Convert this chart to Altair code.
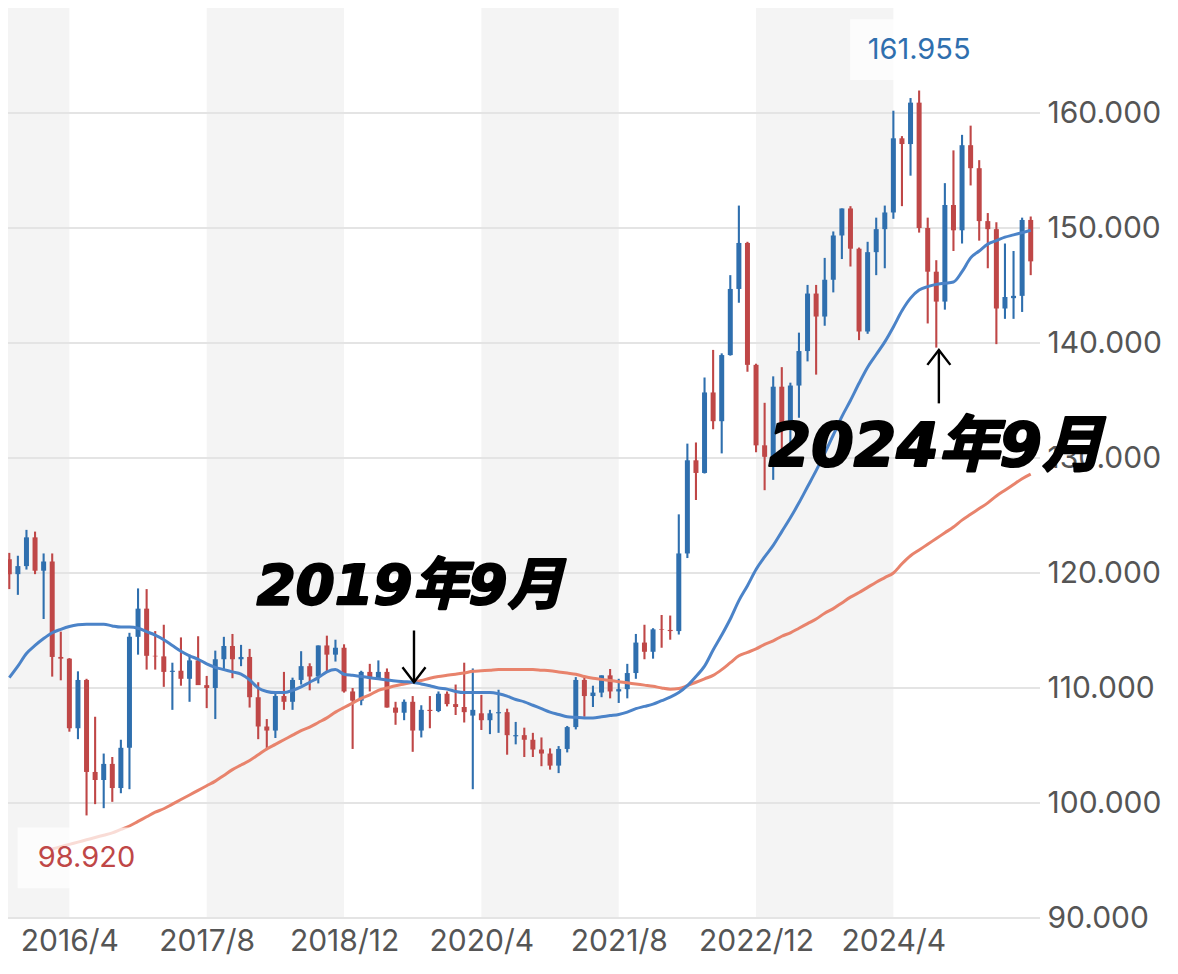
import altair as alt
import pandas as pd

# ---------------- data (monthly candles, index 0 = 2015/9 ... 119 = 2025/8) ----------------
open_ = [
    121.2, 119.9, 120.6, 123.1, 120.2, 121.0, 112.7, 112.55, 106.5, 110.7,
    102.7, 102.0, 103.4, 101.3, 104.8, 114.45, 116.9, 112.8, 112.75, 111.4,
    111.5, 110.8, 112.4, 110.25, 110.0, 112.5, 113.65, 112.5, 112.7, 109.2,
    106.65, 106.3, 109.3, 108.8, 110.7, 111.9, 111.0, 113.7, 112.9, 113.5,
    109.7, 108.9, 111.4, 110.85, 111.4, 108.3, 107.85, 108.8, 106.3, 108.1,
    108.0, 109.5, 108.6, 108.35, 107.6, 107.8, 107.2, 107.8, 107.9, 105.8,
    105.9, 105.5, 104.65, 104.3, 103.25, 104.7, 106.6, 110.7, 109.3, 109.6,
    111.1, 109.7, 109.9, 111.3, 113.95, 113.15, 115.1, 115.05, 114.95, 121.7,
    129.8, 128.7, 135.7, 133.2, 138.95, 144.7, 148.7, 138.1, 131.1, 130.1,
    136.2, 132.8, 136.3, 139.3, 144.3, 142.3, 145.5, 149.35, 151.7, 148.2,
    141.0, 147.9, 149.9, 151.35, 157.8, 157.3, 160.9, 150.0, 146.2, 143.6,
    152.0, 149.8, 157.2, 155.2, 150.6, 149.9, 143.0, 143.9, 144.1, 150.7,
]
high = [
    121.75, 121.5, 123.75, 123.6, 121.7, 121.7, 114.9, 112.6, 111.45, 110.8,
    107.5, 104.3, 104.0, 105.5, 114.8, 118.66, 118.6, 114.95, 115.5, 112.2,
    114.4, 112.9, 114.5, 111.05, 113.25, 114.45, 114.7, 113.75, 113.4, 110.5,
    107.3, 109.55, 111.4, 110.9, 113.2, 112.15, 113.7, 114.55, 114.2, 113.8,
    110.0, 111.5, 112.1, 112.4, 111.7, 108.8, 109.0, 109.3, 108.5, 109.3,
    109.7, 109.7, 110.3, 112.2, 111.7, 109.4, 108.1, 109.85, 108.2, 107.05,
    106.55, 106.1, 105.7, 104.75, 104.95, 106.7, 110.95, 110.95, 110.2, 111.1,
    111.65, 110.8, 112.1, 114.7, 115.5, 115.2, 116.35, 116.3, 125.1, 131.25,
    131.35, 137.0, 139.4, 139.1, 145.9, 151.95, 148.8, 138.2, 134.8, 137.1,
    137.9, 136.55, 140.9, 145.05, 145.05, 147.4, 149.7, 151.7, 151.9, 148.3,
    148.8, 150.9, 151.95, 160.2, 157.99, 161.3, 161.955, 150.9, 147.2, 153.9,
    156.75, 158.1, 158.9, 155.9, 151.3, 150.5, 148.65, 148.0, 150.9, 151.0,
]
low = [
    118.6, 118.1, 120.3, 119.9, 116.0, 110.99, 110.67, 106.2, 105.55, 98.92,
    99.9, 99.55, 100.1, 100.85, 101.2, 112.9, 111.6, 111.6, 110.1, 108.1,
    110.2, 108.8, 110.6, 108.25, 107.3, 111.65, 110.85, 111.9, 108.3, 105.55,
    104.6, 105.65, 108.1, 108.1, 110.3, 109.8, 110.4, 111.4, 112.3, 109.6,
    104.7, 108.5, 109.7, 110.8, 108.3, 106.8, 107.2, 104.45, 105.7, 106.5,
    107.9, 108.4, 107.65, 107.0, 101.2, 106.35, 105.99, 106.1, 104.2, 105.1,
    104.0, 104.0, 103.2, 102.9, 102.6, 104.4, 106.4, 107.5, 108.35, 109.2,
    109.1, 108.7, 109.1, 110.8, 112.5, 112.55, 113.5, 114.2, 114.65, 121.3,
    126.35, 128.65, 132.5, 130.4, 138.9, 143.5, 137.5, 130.5, 127.2, 128.1,
    129.6, 130.6, 133.5, 138.4, 137.25, 141.5, 144.4, 147.3, 146.65, 140.25,
    140.8, 145.9, 146.5, 150.8, 151.9, 154.55, 149.6, 141.7, 139.6, 142.9,
    148.0, 148.65, 153.7, 148.9, 146.5, 139.9, 142.1, 142.1, 142.7, 145.9,
]
close = [
    119.9, 120.6, 123.1, 120.2, 121.0, 112.7, 112.55, 106.5, 110.7, 102.7,
    102.0, 103.4, 101.3, 104.8, 114.45, 116.9, 112.8, 112.75, 111.4, 111.5,
    110.8, 112.4, 110.25, 110.0, 112.5, 113.65, 112.5, 112.7, 109.2, 106.65,
    106.3, 109.3, 108.8, 110.7, 111.9, 111.0, 113.7, 112.9, 113.5, 109.7,
    108.9, 111.4, 110.85, 111.4, 108.3, 107.85, 108.8, 106.3, 108.1, 108.0,
    109.5, 108.6, 108.35, 107.9, 108.1, 107.2, 107.8, 107.9, 105.9, 105.9,
    105.5, 104.65, 104.3, 103.25, 104.7, 106.6, 110.7, 109.3, 109.6, 111.1,
    109.7, 109.9, 111.3, 113.95, 113.15, 115.1, 115.05, 114.95, 121.7, 129.8,
    128.7, 135.7, 133.2, 138.95, 144.7, 148.7, 138.1, 131.1, 130.1, 136.2,
    132.8, 136.3, 139.3, 144.3, 142.3, 145.5, 149.35, 151.7, 148.2, 141.0,
    147.9, 149.9, 151.35, 157.8, 157.3, 160.9, 150.0, 146.2, 143.6, 152.0,
    149.8, 157.2, 155.2, 150.6, 149.9, 143.0, 144.0, 144.1, 150.7, 147.1,
]
# moving averages (blue = short, red = long)
ma_blue = [
    110.9, 111.9, 113.0, 113.7, 114.3, 114.8, 115.1, 115.35, 115.5, 115.55,
    115.55, 115.55, 115.4, 115.3, 115.3, 115.2, 114.9, 114.6, 114.2, 113.7,
    113.2, 112.8, 112.5, 112.1, 111.8, 111.6, 111.4, 111.2, 110.7, 110.0,
    109.7, 109.6, 109.6, 109.8, 110.1, 110.5, 110.9, 111.4, 111.6, 111.2,
    111.1, 111.0, 110.9, 110.8, 110.7, 110.6, 110.55, 110.5, 110.35, 110.2,
    110.0, 109.9, 109.7, 109.6, 109.6, 109.6, 109.6, 109.5, 109.3, 109.0,
    108.8, 108.5, 108.2, 107.9, 107.7, 107.5, 107.45, 107.4, 107.4, 107.5,
    107.6, 107.7, 107.9, 108.2, 108.4, 108.6, 108.9, 109.2, 109.6, 110.2,
    111.0, 111.9, 113.3, 114.6, 116.0, 117.6, 118.9, 120.3, 121.4, 122.4,
    123.6, 124.8, 126.1, 127.5, 128.9, 130.4, 132.0, 133.6, 135.0, 136.5,
    137.9, 139.0, 140.1, 141.4, 142.8, 143.9, 144.6, 144.9, 145.1, 145.2,
    145.3, 146.2, 147.4, 148.0, 148.6, 148.9, 149.2, 149.4, 149.6, 149.8,
]
ma_red = [
    None, None, None, None, None, 96.0, 96.2, 96.4, 96.6, 96.8,
    97.0, 97.2, 97.4, 97.7, 98.0, 98.4, 98.8, 99.2, 99.5, 99.9,
    100.3, 100.7, 101.1, 101.5, 101.9, 102.4, 102.9, 103.3, 103.7, 104.2,
    104.7, 105.1, 105.5, 105.9, 106.3, 106.6, 107.0, 107.4, 107.9, 108.3,
    108.7, 109.1, 109.4, 109.8, 110.0, 110.2, 110.35, 110.5, 110.65, 110.85,
    111.0, 111.1, 111.2, 111.3, 111.45, 111.5, 111.55, 111.6, 111.6, 111.6,
    111.6, 111.6, 111.55, 111.5, 111.4, 111.3, 111.2, 111.0, 110.85, 110.75,
    110.65, 110.55, 110.45, 110.35, 110.25, 110.15, 110.0, 109.9, 109.95, 110.2,
    110.5, 110.8, 111.1, 111.6, 112.2, 112.8, 113.1, 113.4, 113.8, 114.1,
    114.5, 114.8, 115.2, 115.6, 116.0, 116.5, 116.9, 117.4, 117.9, 118.3,
    118.75, 119.2, 119.6, 120.0, 120.8, 121.5, 122.0, 122.5, 123.0, 123.5,
    124.0, 124.6, 125.1, 125.6, 126.1, 126.7, 127.2, 127.7, 128.2, 128.6,
]
xtick_index = [7, 23, 39, 55, 71, 87, 103]
xtick_labels = ["2016/4", "2017/8", "2018/12", "2020/4", "2021/8", "2022/12", "2024/4"]
ytick_values = [90, 100, 110, 120, 130, 140, 150, 160, 170]
band_start = [-0.5, 23, 55, 87]
band_end = [7, 39, 71, 103]
notes = ["2019年9月", "2024年9月"]

# ---------------- styling ----------------
BLUE = "#2f6fae"
RED = "#bf4747"
MA_BLUE = "#4b83c8"
MA_RED = "#e8836c"
LABEL_FONT = "Inter"
AXIS_COLOR = "#555555"
W, H = 1040, 920
n = len(close)
Y_DOM = [90, 170]
units_per_px = (Y_DOM[1] - Y_DOM[0]) / H

df = pd.DataFrame({"i": list(range(n)), "open": open_, "high": high, "low": low,
                   "close": close, "ma_blue": ma_blue, "ma_red": ma_red})
df["dir"] = ["up" if c >= o else "down" for o, c in zip(open_, close)]

xscale = alt.Scale(domain=[-0.5, n - 0.5], nice=False, zero=False)
yscale = alt.Scale(domain=Y_DOM, nice=False, zero=False)

label_expr = " : ".join(f"datum.value == {v} ? '{t}'" for v, t in zip(xtick_index, xtick_labels)) + " : ''"
xaxis = alt.Axis(values=xtick_index, labelExpr=label_expr, title=None, grid=False, ticks=False,
                 domain=False, labelFont=LABEL_FONT, labelFontSize=30, labelColor=AXIS_COLOR,
                 labelPadding=8, labelFlush=False, labelOverlap=False)
yaxis = alt.Axis(orient="right", values=ytick_values, format=".3f", title=None, grid=False,
                 ticks=False, domain=False, labelFont=LABEL_FONT, labelFontSize=30,
                 labelColor=AXIS_COLOR, labelPadding=7, labelFlush=False, labelOverlap=False)


def X(field):
    return alt.X(field, type="quantitative", scale=xscale, axis=xaxis)


def Y(field):
    return alt.Y(field, type="quantitative", scale=yscale, axis=yaxis)


bands = alt.Chart(pd.DataFrame({"s": band_start, "e": band_end})).mark_rect(color="#f4f4f4").encode(
    x=X("s"), x2="e")

grid = alt.Chart(pd.DataFrame({"v": ytick_values})).mark_rule(color="#e4e4e4", strokeWidth=2).encode(
    y=Y("v"))

color = alt.Color("dir:N", scale=alt.Scale(domain=["up", "down"], range=[BLUE, RED]), legend=None)
base = alt.Chart(df)
wicks = base.mark_rule(strokeWidth=2.1).encode(x=X("i"), y=Y("low"), y2="high", color=color)
bodies = base.mark_bar(size=5).encode(x=X("i"), y=Y("open"), y2="close", color=color)

line_blue = base.mark_line(color=MA_BLUE, strokeWidth=3, interpolate="monotone").encode(
    x=X("i"), y=Y("ma_blue"))
line_red = base.transform_filter("isValid(datum.ma_red)").mark_line(
    color=MA_RED, strokeWidth=3, interpolate="monotone").encode(x=X("i"), y=Y("ma_red"))

# max / min labels
i_hi = high.index(max(high))
i_lo = low.index(min(low))
ext = pd.DataFrame({
    "i": [i_hi, i_lo],
    "y": [max(high) + 41 * units_per_px, min(low) - 42.5 * units_per_px],
    "t": [f"{max(high):.3f}", f"{min(low):.3f}"],
    "c": ["hi", "lo"],
})
box_path = "M-1,-0.44L1,-0.44L1,0.44L-1,0.44Z"
boxes = alt.Chart(ext).mark_point(shape=box_path, size=138 * 138, filled=True, color="white",
                                  opacity=0.72, strokeWidth=0).encode(x=X("i"), y=Y("y"))
ext_text = alt.Chart(ext).mark_text(font=LABEL_FONT, fontSize=29, baseline="middle", align="center").encode(
    x=X("i"), y=Y("y"), text="t:N",
    color=alt.Color("c:N", scale=alt.Scale(domain=["hi", "lo"], range=["#2f6ea8", "#b5403f"]), legend=None))

# annotations
ann = pd.DataFrame({"i": [46.7, 107.96], "y": [118.8, 130.9], "t": notes, "fs": [56, 61]})
ann_text = alt.Chart(ann).mark_text(font="DejaVu Sans, Noto Sans CJK JP", fontStyle="italic",
                                    fontWeight="bold", baseline="middle", align="center",
                                    color="black", stroke="black", strokeWidth=2.2,
                                    strokeJoin="round").encode(
    x=X("i"), y=Y("y"), text="t:N", size=alt.Size("fs:Q", scale=None, legend=None))

arr = pd.DataFrame({"i": [47.15, 108.3], "tip": [110.5, 139.4], "tail": [115.0, 134.75],
                    "d": ["down", "up"]})
shafts = alt.Chart(arr).mark_rule(color="black", strokeWidth=2.4).encode(x=X("i"), y=Y("tip"), y2="tail")
head_down = alt.Chart(arr).transform_filter("datum.d == 'down'").mark_point(
    shape="M-1,-1.3L0,0L1,-1.3", size=530, filled=False, color="black", opacity=1,
    strokeWidth=2.4).encode(x=X("i"), y=Y("tip"))
head_up = alt.Chart(arr).transform_filter("datum.d == 'up'").mark_point(
    shape="M-1,1.3L0,0L1,1.3", size=530, filled=False, color="black", opacity=1,
    strokeWidth=2.4).encode(x=X("i"), y=Y("tip"))

chart = alt.layer(
    bands, grid, wicks, bodies, line_red, line_blue, boxes, ext_text,
    ann_text, shafts, head_down, head_up
).properties(
    width=W, height=H,
    autosize=alt.AutoSizeParams(type="none"),
    padding={"left": -8, "top": -10, "right": 130, "bottom": 50},
    background="white",
).configure_view(stroke=None)

chart.save("out.html", embed_options={"renderer": "svg", "actions": False})
